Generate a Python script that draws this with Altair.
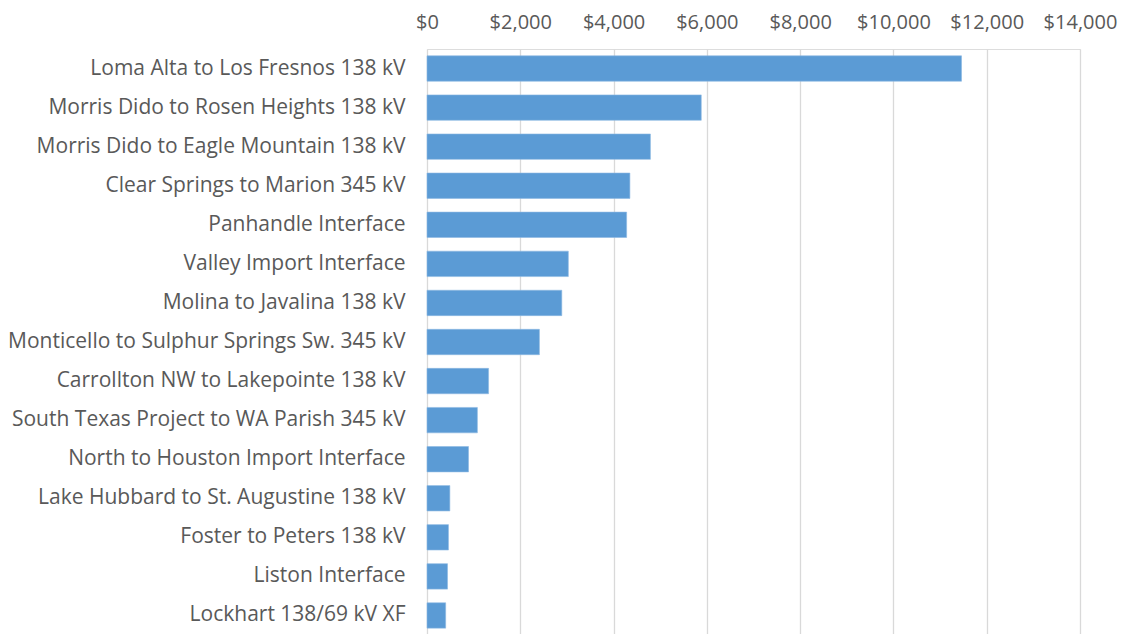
import altair as alt
import pandas as pd

constraints = [
    "Loma Alta to Los Fresnos 138 kV",
    "Morris Dido to Rosen Heights 138 kV",
    "Morris Dido to Eagle Mountain 138 kV",
    "Clear Springs to Marion 345 kV",
    "Panhandle Interface",
    "Valley Import Interface",
    "Molina to Javalina 138 kV",
    "Monticello to Sulphur Springs Sw. 345 kV",
    "Carrollton NW to Lakepointe 138 kV",
    "South Texas Project to WA Parish 345 kV",
    "North to Houston Import Interface",
    "Lake Hubbard to St. Augustine 138 kV",
    "Foster to Peters 138 kV",
    "Liston Interface",
    "Lockhart 138/69 kV XF",
]
values = [11460, 5880, 4790, 4350, 4280, 3030, 2890, 2410, 1320, 1080, 890, 490, 460, 440, 400]
tick_values = [0, 2000, 4000, 6000, 8000, 10000, 12000, 14000]

df = pd.DataFrame({"constraint": constraints, "value": values})

FONT = "Open Sans"
TEXT = "#595959"

chart = (
    alt.Chart(df)
    .mark_bar(color="#5B9BD5", stroke="#8DB9E3", strokeWidth=0.6)
    .encode(
        x=alt.X(
            "value:Q",
            scale=alt.Scale(domain=[0, 14000], nice=False),
            axis=alt.Axis(
                orient="top",
                values=tick_values,
                format="$,.0f",
                title=None,
                domain=False,
                ticks=False,
                labelOverlap=False,
                labelFlush=False,
                labelBound=False,
                labelPadding=17,
                labelFontSize=20,
                labelFont=FONT,
                labelColor=TEXT,
                grid=True,
                gridColor="#D9D9D9",
                gridWidth=1.3,
            ),
        ),
        y=alt.Y(
            "constraint:N",
            sort=constraints,
            scale=alt.Scale(paddingInner=0.35, paddingOuter=0.175),
            axis=alt.Axis(
                title=None,
                domain=False,
                ticks=False,
                grid=False,
                labelPadding=22,
                labelFontSize=21,
                labelFont=FONT,
                labelColor=TEXT,
                labelLimit=500,
            ),
        ),
    )
    .properties(
        width=653,
        height=586,
        autosize=alt.AutoSizeParams(type="none"),
        padding={"left": 419, "top": 41, "right": 40, "bottom": 0},
    )
    .configure_view(stroke=None)
    .configure(background="white")
)

chart.save("out.html", embed_options={"renderer": "svg", "actions": False})
